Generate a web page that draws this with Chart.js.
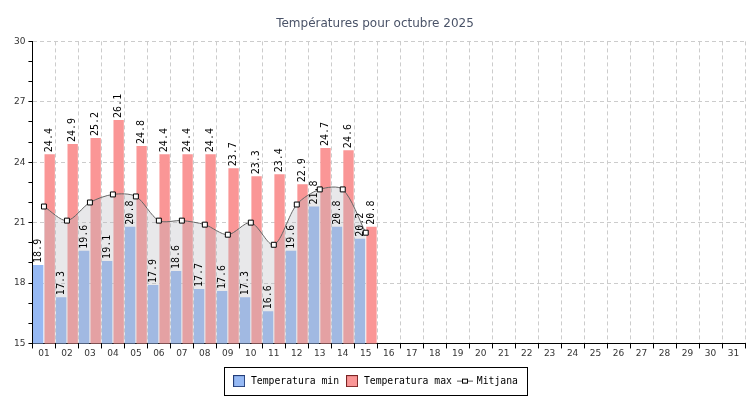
<!DOCTYPE html>
<html>
<head>
<meta charset="utf-8">
<script src="https://cdn.jsdelivr.net/npm/chart.js@4/dist/chart.umd.min.js"></script>
<style>
html, body { margin: 0; padding: 0; background: #fff; overflow: hidden; }
canvas { display: block; }
</style>
</head>
<body>
<canvas id="tempChart" width="750" height="400"></canvas>
<script>
const days = ['01', '02', '03', '04', '05', '06', '07', '08', '09', '10',
  '11', '12', '13', '14', '15', '16', '17', '18', '19', '20',
  '21', '22', '23', '24', '25', '26', '27', '28', '29', '30', '31'];
const tempMin = [18.9, 17.3, 19.6, 19.1, 20.8, 17.9, 18.6, 17.7, 17.6, 17.3, 16.6, 19.6, 21.8, 20.8, 20.2];
const tempMax = [24.4, 24.9, 25.2, 26.1, 24.8, 24.4, 24.4, 24.4, 23.7, 23.3, 23.4, 22.9, 24.7, 24.6, 20.8];
const tempMean = [21.8, 21.1, 22.0, 22.4, 22.3, 21.1, 21.1, 20.9, 20.4, 21.0, 19.9, 21.9, 22.65, 22.65, 20.5];

const blue = 'rgb(150, 185, 244)';
const red = 'rgb(250, 150, 150)';

// little pictures for the legend
function legendBox(fill, stroke) {
  const c = document.createElement('canvas');
  c.width = 12; c.height = 12;
  const g = c.getContext('2d');
  g.fillStyle = fill;
  g.fillRect(0, 0, 12, 12);
  g.strokeStyle = stroke;
  g.lineWidth = 1;
  g.strokeRect(0.5, 0.5, 11, 11);
  return c;
}
function legendLine() {
  const c = document.createElement('canvas');
  c.width = 16; c.height = 7;
  const g = c.getContext('2d');
  g.strokeStyle = '#555';
  g.beginPath(); g.moveTo(0, 3.5); g.lineTo(16, 3.5); g.stroke();
  g.fillStyle = '#fff';
  g.fillRect(5.5, 1.5, 5, 4);
  g.strokeStyle = '#000';
  g.strokeRect(5.5, 1.5, 5, 4);
  return c;
}
const legendIcons = [legendBox(blue, '#223c78'), legendBox(red, '#7a2424'), legendLine()];

const barLabels = {
  id: 'barLabels',
  afterDatasetsDraw(chart) {
    const ctx = chart.ctx;
    ctx.save();
    ctx.font = '10px "DejaVu Sans Mono"';
    ctx.fillStyle = '#000';
    ctx.textAlign = 'left';
    ctx.textBaseline = 'middle';
    chart.data.datasets.forEach((ds, i) => {
      if (ds.type === 'line') return;
      const meta = chart.getDatasetMeta(i);
      meta.data.forEach((bar, j) => {
        const v = ds.data[j];
        if (v == null) return;
        ctx.save();
        ctx.translate(bar.x, bar.y - 2);
        ctx.rotate(-Math.PI / 2);
        ctx.fillText(v.toFixed(1), 0, 0);
        ctx.restore();
      });
    });
    ctx.restore();
  }
};

const legendFrame = {
  id: 'legendFrame',
  afterDraw(chart) {
    const hb = chart.legend && chart.legend.legendHitBoxes;
    if (!hb || !hb.length) return;
    const l = Math.min(...hb.map(h => h.left));
    const r = Math.max(...hb.map(h => h.left + h.width));
    const t = Math.min(...hb.map(h => h.top));
    const b = Math.max(...hb.map(h => h.top + h.height));
    const ctx = chart.ctx;
    ctx.save();
    ctx.strokeStyle = '#000';
    ctx.lineWidth = 1;
    ctx.strokeRect(Math.round(l - 8) + 0.5, Math.round(t - 9) + 0.5, Math.round(r - l + 17), Math.round(b - t + 18));
    ctx.restore();
  }
};

Chart.defaults.font.family = '"DejaVu Sans", sans-serif';

new Chart(document.getElementById('tempChart').getContext('2d'), {
  type: 'bar',
  data: {
    labels: days,
    datasets: [{
      label: 'Temperatura min',
      data: tempMin,
      backgroundColor: blue,
      order: 1
    }, {
      label: 'Temperatura max',
      data: tempMax,
      backgroundColor: red,
      order: 1
    }, {
      type: 'line',
      label: 'Mitjana',
      data: tempMean,
      borderColor: '#666',
      borderWidth: 1,
      backgroundColor: 'rgba(185, 185, 192, 0.33)',
      fill: 'start',
      tension: 0.3,
      pointStyle: 'rect',
      pointRadius: 3.5,
      pointBackgroundColor: '#fff',
      pointBorderColor: '#000',
      pointBorderWidth: 1,
      order: 0
    }]
  },
  options: {
    responsive: false,
    animation: false,
    layout: { padding: { left: 0, right: 0, bottom: 4 } },
    datasets: {
      bar: { barPercentage: 0.9, categoryPercentage: 1 }
    },
    plugins: {
      title: {
        display: true,
        text: 'Températures pour octubre 2025',
        color: '#4a5368',
        font: { size: 12, weight: 'normal' },
        padding: { top: 17, bottom: 10 }
      },
      legend: {
        position: 'bottom',
        labels: {
          usePointStyle: true,
          pointStyleWidth: 14,
          boxHeight: 12,
          padding: 6,
          color: '#000',
          font: { family: '"DejaVu Sans Mono"', size: 9.75 },
          generateLabels(chart) {
            const items = Chart.defaults.plugins.legend.labels.generateLabels(chart);
            items.sort((a, b) => a.datasetIndex - b.datasetIndex);
            items.forEach(it => { it.pointStyle = legendIcons[it.datasetIndex]; });
            return items;
          }
        }
      },
      tooltip: { enabled: false }
    },
    scales: {
      x: {
        offset: true,
        grid: {
          offset: true,
          color: '#cccccc',
          tickColor: '#000',
          tickLength: 5
        },
        border: { display: true, color: '#000', dash: [4, 3] },
        ticks: { color: '#333', font: { size: 9 }, padding: 0, autoSkip: false, maxRotation: 0 },
        afterFit(scale) { scale.height += 11; }
      },
      y: {
        min: 15,
        max: 30,
        grid: {
          color: c => (c.tick && c.tick.value % 3 === 0) ? '#cccccc' : 'rgba(0,0,0,0)',
          tickColor: '#000',
          tickLength: 4
        },
        border: { display: true, color: '#000', dash: [4, 3] },
        ticks: {
          stepSize: 1,
          autoSkip: false,
          color: '#333',
          font: { size: 9 },
          padding: 3,
          callback: v => (v % 3 === 0 ? v : '')
        },
        afterFit(scale) { scale.width += 11; }
      }
    }
  },
  plugins: [barLabels, legendFrame]
});
</script>
</body>
</html>
